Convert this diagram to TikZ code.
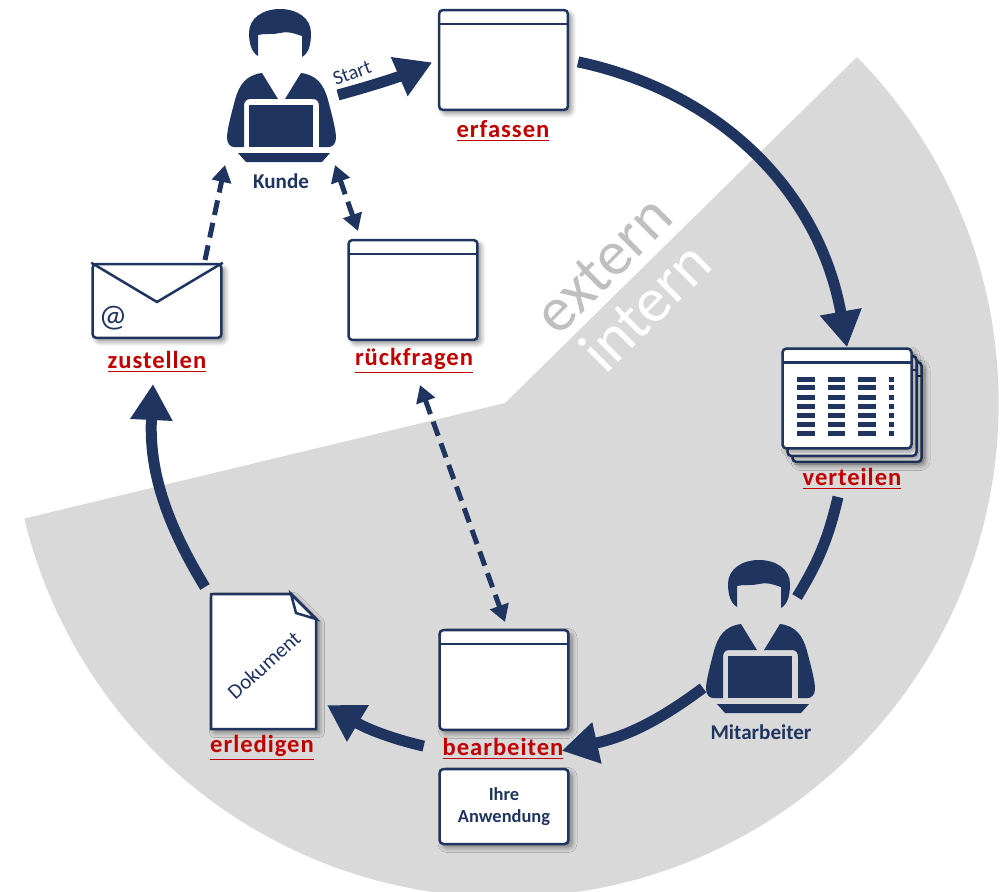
\documentclass[tikz,border=0pt]{standalone}
\usepackage{fontspec}
\setmainfont{Carlito}
\newfontfamily\stepfont[LetterSpace=4]{Carlito}
\usetikzlibrary{arrows.meta,shadows,shadows.blur}
\definecolor{navy}{HTML}{1F3560}
\definecolor{stepred}{HTML}{C00000}
\definecolor{sectorgray}{HTML}{D9D9D9}
\tikzset{
    softshadow/.style={blur shadow={shadow blur steps=6,shadow xshift=.07cm,shadow yshift=-.07cm,shadow blur radius=.1cm,shadow opacity=45}},
    sheet/.style={draw=navy,fill=white,line width=.05cm,rounded corners=.08cm,softshadow},
    appbox/.style={sheet,minimum width=2.58cm,minimum height=2cm,inner sep=0pt},
    window/.style={appbox,path picture={
        \draw[navy,line width=.05cm] ([yshift=-.28cm]path picture bounding box.north west) -- ([yshift=-.28cm]path picture bounding box.north east);}},
    steplabel/.style={text=stepred,font=\stepfont\fontsize{14}{16}\selectfont\bfseries},
    rolelabel/.style={text=navy,font=\fontsize{12}{14}\selectfont\bfseries},
    flow/.style={navy,line width=.22cm},
    flowhead/.style={flow,-{Triangle[length=.72cm,width=.8cm]}},
    asksend/.style={navy,line width=.1cm,dash pattern=on .3cm off .16cm},
    person/.pic={
        \fill[navy] (-23,56) .. controls (-30,52) and (-32,42) .. (-32,33)
            .. controls (-32,18) and (-18,9) .. (-1,9)
            .. controls (16,9) and (30,18) .. (30,33)
            .. controls (30,44) and (28,53) .. (21,57) -- (21,36)
            .. controls (12,33) and (6,31) .. (-1,33)
            .. controls (-8,35) and (-16,33) .. (-23,35) -- cycle;
        \fill[navy] (-3,99) -- (-19,73) .. controls (-35,75) and (-42,85) .. (-46,100)
            .. controls (-50,115) and (-54,130) .. (-54,138)
            .. controls (-54,144) and (-50,147) .. (-47,147) -- (-37,147) -- (-37,106)
            .. controls (-37,102) and (-35,99) .. (-31,99) -- cycle;
        \fill[navy] (4,99) -- (20,73) .. controls (36,75) and (43,85) .. (47,100)
            .. controls (51,115) and (55,130) .. (55,138)
            .. controls (55,144) and (51,147) .. (48,147) -- (38,147) -- (38,106)
            .. controls (38,102) and (36,99) .. (32,99) -- cycle;
        \fill[navy] (-32,105) rectangle (32,147);
        \fill[navy] (-43,153) -- (49,153) -- (41,162) -- (-35,162) -- cycle;
        \coordinate (-start) at (57,95);
        \coordinate (-left) at (-56,165);
        \coordinate (-right) at (54,165);
        \coordinate (-top) at (37,46);
        \coordinate (-arm) at (-57,137);
    }
}
\begin{document}
\begin{tikzpicture}[x=.02cm,y=-.02cm]
    \useasboundingbox (0,0) rectangle (1007,892);
    \clip (0,0) rectangle (1007,892);

    % sector behind the lower part
    \fill[sectorgray] (505,403) -- (857,57) arc[start angle=-44.5,end angle=166.5,radius=494] -- cycle;
    \node[rotate=45,text=black!25,font=\fontsize{36}{40}\selectfont] (extern) at (603,265) {extern};
    \node[rotate=45,text=white,font=\fontsize{36}{40}\selectfont] (intern) at (645,306) {intern};
    \node[anchor=east,text=navy,font=\fontsize{14}{16}\selectfont\bfseries] (cutword) at (4,201) {n};

    % people
    \pic (kunde) at (281,0) {person};
    \pic (mitarbeiter) at (760,551) {person};
    \node[rolelabel] (kundelabel) at (281,181) {Kunde};
    \node[rolelabel] (mitarbeiterlabel) at (761,732) {Mitarbeiter};

    % windows
    \foreach \name/\x/\y in {erfassen/503.5/60, rueckfragen/413/290, bearbeiten/504/680} {
        \node[window] (\name) at (\x,\y) {};
    }
    \node[appbox,minimum height=1.5cm,align=center,text=navy,font=\fontsize{10.5}{13}\selectfont\bfseries] (anwendung) at (504,806.5) {Ihre\\Anwendung};

    % stack of tables
    \node[window] at (857,412) {};
    \node[window] at (852,406) {};
    \node[window] (verteilen) at (847,398.5) {};
    \foreach \row in {379,387,397,406,415,424,433} {
        \foreach \xa/\xb in {797/815,828/845,858/876,889/894} {
            \fill[navy] (\xa,\row-2.5) rectangle (\xb,\row+2.5);
        }
    }

    % mail
    \node[appbox,minimum height=1.48cm] (zustellen) at (157,301) {};
    \draw[navy,line width=.05cm] (zustellen.north west) -- (157,302) -- (zustellen.north east);
    \node[text=navy,font=\fontsize{18}{20}\selectfont] (mailat) at (113,318) {@};

    % paper
    \draw[sheet,rounded corners=0pt] (211,594) -- (291,594) -- (316,619) -- (316,729) -- (211,729) -- cycle;
    \draw[navy,line width=.05cm,fill=white] (291,594) -- (296,613) -- (316,619) -- cycle;
    \node[minimum width=2.1cm,minimum height=2.7cm] (erledigen) at (263.5,661.5) {};
    \node[rotate=42,text=navy,font=\fontsize{12}{14}\selectfont] (dokument) at (264,665) {Dokument};

    % step names
    \foreach \name/\word/\x/\y in {erfassen/erfassen/503/131, rueckfragen/rückfragen/414/361, bearbeiten/bearbeiten/503/749, erledigen/erledigen/262/748, zustellen/zustellen/157/362, verteilen/verteilen/852/479} {
        \node[steplabel] (\name-label) at (\x,\y) {\underline{\word}};
    }

    \coordinate (verteilenout) at (838,497);
    \coordinate (erledigenin) at (327,705);
    \coordinate (erledigenout) at (205,587);
    \coordinate (zustellenin) at (153,384);
    \coordinate (zustellenout) at (205,260);
    \coordinate (fragenup) at (358,231);
    \coordinate (fragendown) at (420,385);
    \coordinate (bearbeitenup) at (505,622);

    % main circle
    \draw[flowhead,shorten >=.12cm] (kunde-start) to[bend right=4] (erfassen.west);
    \draw[flowhead,shorten <=.18cm] (erfassen.east) to[bend left=34] (verteilen.north);
    \draw[flow] (verteilenout) to[bend left=9] (mitarbeiter-top);
    \draw[flowhead,shorten >=-.16cm] (mitarbeiter-arm) to[bend left=12] (bearbeiten-label.east);
    \draw[flowhead,shorten <=.26cm] (bearbeiten-label.west) to[bend left=9] (erledigenin);
    \draw[flowhead] (erledigenout) to[bend left=17] (zustellenin);

    % dashed ones
    \draw[asksend,-{Triangle[length=.34cm,width=.38cm]}] (zustellenout) -- (kunde-left);
    \draw[asksend,{Triangle[length=.34cm,width=.38cm]}-{Triangle[length=.34cm,width=.38cm]}] (kunde-right) -- (fragenup);
    \draw[asksend,{Triangle[length=.34cm,width=.38cm]}-{Triangle[length=.34cm,width=.38cm]}] (fragendown) -- (bearbeitenup);

    \node[rotate=20,text=navy,font=\fontsize{11.5}{14}\selectfont] (startlabel) at (352,73) {Start};
\end{tikzpicture}
\end{document}
